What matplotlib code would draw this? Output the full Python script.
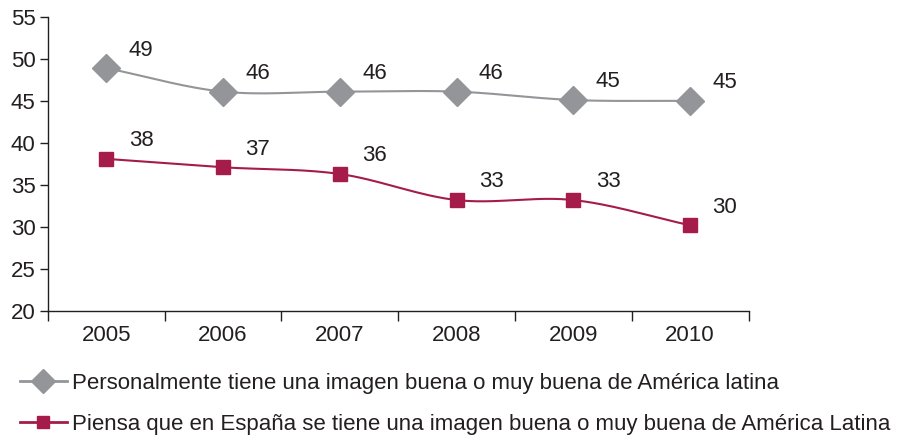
import numpy as np
import matplotlib
matplotlib.use('Agg')
from matplotlib import pyplot as plt
from matplotlib.lines import Line2D

plt.rcParams['font.family'] = ['Liberation Sans', 'DejaVu Sans']

years = ['2005', '2006', '2007', '2008', '2009', '2010']
personal = [48.9, 46.1, 46.1, 46.1, 45.1, 45.0]      # imagen personal
espana = [38.1, 37.1, 36.3, 33.2, 33.2, 30.2]        # imagen en España
personal_lbl = [49, 46, 46, 46, 45, 45]
espana_lbl = [38, 37, 36, 33, 33, 30]

label_personal = 'Personalmente tiene una imagen buena o muy buena de América latina'
label_espana = 'Piensa que en España se tiene una imagen buena o muy buena de América Latina'

gris = '#939598'
granate = '#A51C4B'
texto = '#231f20'


def suave(x, y, n=30):
    # curva Catmull-Rom entre los puntos, como la linea suavizada de Excel
    x = np.asarray(x, float)
    y = np.asarray(y, float)
    px = np.concatenate([[2 * x[0] - x[1]], x, [2 * x[-1] - x[-2]]])
    py = np.concatenate([[2 * y[0] - y[1]], y, [2 * y[-1] - y[-2]]])
    xs, ys = [], []
    t = np.linspace(0, 1, n)
    for i in range(1, len(px) - 2):
        for p, out in ((px, xs), (py, ys)):
            p0, p1, p2, p3 = p[i - 1], p[i], p[i + 1], p[i + 2]
            out.extend(0.5 * ((2 * p1) + (-p0 + p2) * t
                              + (2 * p0 - 5 * p1 + 4 * p2 - p3) * t ** 2
                              + (-p0 + 3 * p1 - 3 * p2 + p3) * t ** 3))
    return xs, ys


fig = plt.figure(figsize=(9.04, 4.43), dpi=100)
ax = fig.add_axes([0.053, 0.298, 0.775, 0.664])

x = np.arange(len(years))
for vals, lbls, col, mk, ms in ((personal, personal_lbl, gris, 'D', 14),
                                (espana, espana_lbl, granate, 's', 9.5)):
    sx, sy = suave(x, vals)
    ax.plot(sx, sy, color=col, lw=1.5, zorder=2)
    ax.plot(x, vals, ls='none', marker=mk, ms=ms, color=col, zorder=3)
    for xi, v, l in zip(x, vals, lbls):
        ax.annotate(str(l), (xi, v), xytext=(25, 13), textcoords='offset points',
                    ha='center', va='center', fontsize=16, color=texto)

#================Ejes=======================
ax.set_xlim(-0.5, 5.5)
ax.set_ylim(20, 55)
ax.set_yticks(range(20, 56, 5))
ax.set_xticks(x)
ax.set_xticklabels(years)
ax.set_xticks(np.arange(-0.5, 5.6, 1), minor=True)
ax.tick_params(axis='x', which='major', length=0, pad=10, labelsize=16, labelcolor=texto)
ax.tick_params(axis='x', which='minor', length=7, width=1, color=texto)
ax.tick_params(axis='y', length=6, width=1, pad=3, labelsize=16, labelcolor=texto, color=texto)
for s in ('top', 'right'):
    ax.spines[s].set_visible(False)
for s in ('left', 'bottom'):
    ax.spines[s].set_color(texto)
    ax.spines[s].set_linewidth(1)

#================Leyenda=======================
handles = [Line2D([], [], color=gris, lw=2, marker='D', ms=12),
           Line2D([], [], color=granate, lw=2, marker='s', ms=9)]
fig.legend(handles, [label_personal, label_espana], loc='upper left',
           bbox_to_anchor=(0.022, 0.158), frameon=False, fontsize=16,
           handlelength=2.1, handletextpad=0.25, labelspacing=0.9,
           borderaxespad=0, borderpad=0, labelcolor=texto)

fig.savefig('out.png', dpi=100)
